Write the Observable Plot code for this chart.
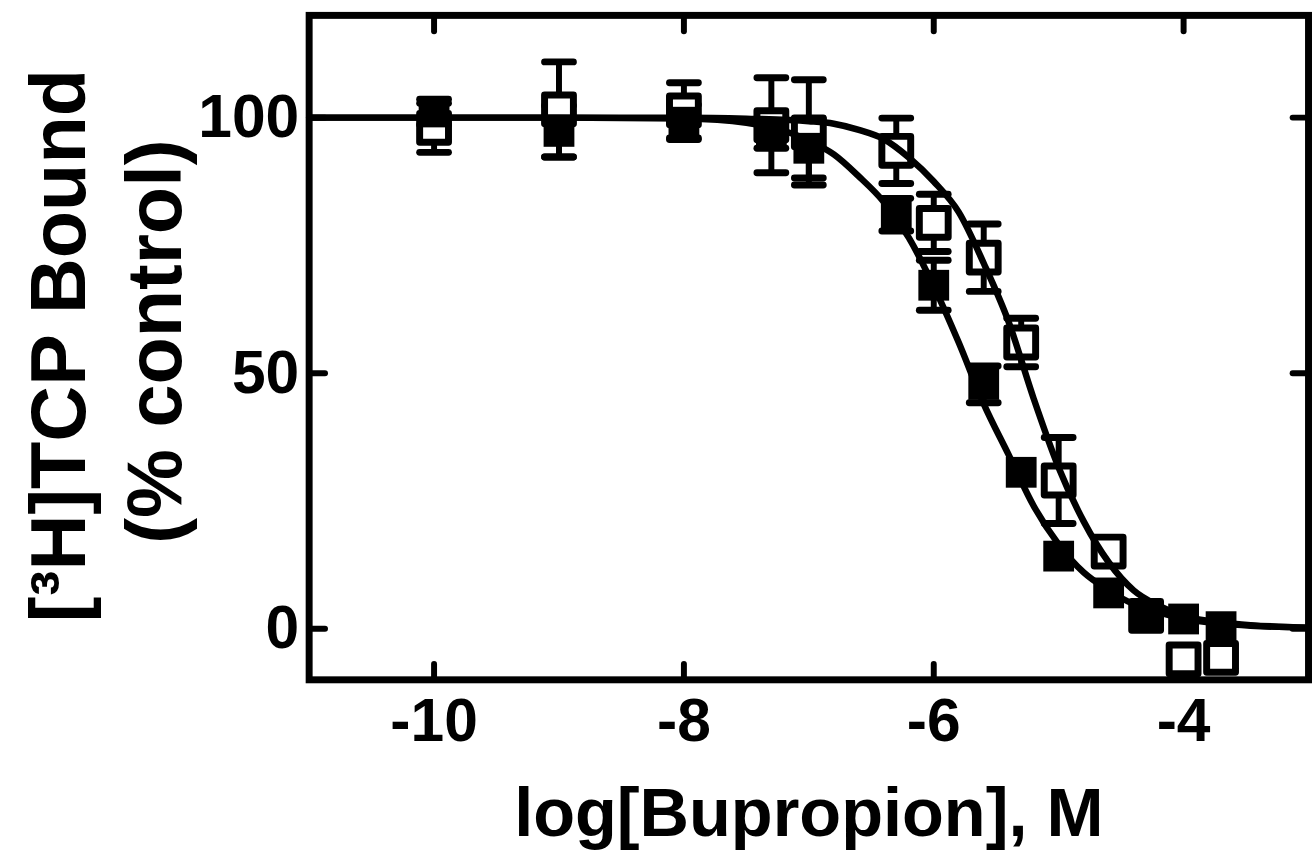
<!DOCTYPE html>
<html><head><meta charset="utf-8">
<script src="https://cdn.jsdelivr.net/npm/d3@7"></script>
<script src="https://cdn.jsdelivr.net/npm/@observablehq/plot@0.6"></script>
<style>html,body{margin:0;padding:0;overflow:hidden;background:#fff}</style>
</head><body><div id="chart"></div>
<script>
// log concentration of bupropion (M)
const concentrations = [-10, -9, -8, -7.3, -7, -6.3, -6, -5.6, -5.3, -5, -4.6, -4.3, -4, -3.7];
// filled squares
const filledMean = [101.1, 97.3, 99.1, 97, 94, 81, 67.2, 47.8, 30.6, 14.2, 7, 2.5, 1.9, 0.4];
const filledErr  = [2.5, 5, 3.4, 3, 5.8, 3.2, 4.9, 3.6, 0, 0, 0, 0, 0, 0];
// open squares
const openMean = [98, 101.6, 101.4, 98.5, 97.1, 93.5, 79.4, 72.6, 56, 29, 15.1, 2.5, -6, -5.7];
const openErr  = [4.8, 9.3, 5.4, 9.3, 10.3, 6.4, 5.6, 6.6, 4.75, 8.4, 0, 0, 0, 0];
// fitted curves
const curveX      = [-11, -10, -9, -8, -7.5, -7, -6.8, -6.6, -6.4, -6.2, -6.0, -5.8, -5.6, -5.4, -5.2, -5.0, -4.8, -4.6, -4.4, -4.2, -4.0, -3.6, -3.0];
const filledCurve = [100, 100, 100, 99.8, 99, 95.5, 92.8, 88.5, 83.5, 76.5, 67, 56, 44, 34, 24, 16.5, 11, 7.5, 4.8, 3.2, 2.0, 0.8, 0.2];
const openCurve   = [100, 100, 100, 100, 99.8, 99.3, 98.8, 97.6, 95.8, 92.2, 87.5, 81.5, 71.5, 60, 45, 31.5, 21, 13, 7.5, 4.5, 2.5, 1.0, 0.2];

const xTicks = [-10, -8, -6, -4];
const yTicks = [0, 50, 100];
const xTitle = "log[Bupropion], M";
const yTitle1 = "[³H]TCP Bound";
const yTitle2 = "(% control)";

const filled = concentrations.map((x, i) => ({x, y: filledMean[i], e: filledErr[i]}));
const open = concentrations.map((x, i) => ({x, y: openMean[i], e: openErr[i]}));
const both = open.concat(filled).filter(d => d.e > 0);
const caps = both.flatMap(d => [{x: d.x, y: d.y + d.e}, {x: d.x, y: d.y - d.e}]);
const fCurve = curveX.map((x, i) => ({x, y: filledCurve[i]}));
const oCurve = curveX.map((x, i) => ({x, y: openCurve[i]}));

const tickShape = {draw(context, l) { context.moveTo(0, 0); context.lineTo(0, -l); }};
const capSymbol = {draw(context) { context.moveTo(-14.5, 0); context.lineTo(14.5, 0); }};
const tickOpts = {length: 16, anchor: "start", shape: tickShape, stroke: "black", strokeWidth: 6, strokeLinecap: "round"};

const chart = Plot.plot({
  width: 1322,
  height: 858,
  marginLeft: 311,
  marginRight: 4,
  marginTop: 15,
  marginBottom: 173.5,
  style: {fontFamily: "Liberation Sans, Arial, sans-serif", fontWeight: "bold", color: "black", background: "white", overflow: "visible"},
  x: {domain: [-11, -3]},
  y: {domain: [-10, 120]},
  marks: [
    Plot.axisX({ticks: xTicks, tickSize: 0, tickPadding: 18, fontSize: 61, fontWeight: "bold", tickFormat: d => String(d), label: null}),
    Plot.axisY({ticks: yTicks, tickSize: 0, tickPadding: 10, fontSize: 61, fontWeight: "bold", tickFormat: d => String(d), label: null}),
    Plot.vector(xTicks, {x: d => d, frameAnchor: "bottom", rotate: 0, ...tickOpts}),
    Plot.vector(xTicks, {x: d => d, frameAnchor: "top", rotate: 180, ...tickOpts}),
    Plot.vector(yTicks, {y: d => d, frameAnchor: "left", rotate: 90, ...tickOpts}),
    Plot.vector(yTicks, {y: d => d, frameAnchor: "right", rotate: -90, ...tickOpts}),
    Plot.ruleX(both, {x: "x", y1: d => d.y - d.e, y2: d => d.y + d.e, stroke: "black", strokeWidth: 6}),
    Plot.dot(caps, {x: "x", y: "y", symbol: capSymbol, r: 5, fill: "none", stroke: "black", strokeWidth: 7, strokeLinecap: "round"}),
    Plot.dot(open, {x: "x", y: "y", symbol: "square", r: 16.4, fill: "white", stroke: "black", strokeWidth: 7, strokeLinejoin: "round"}),
    Plot.line(fCurve, {x: "x", y: "y", curve: "monotone-x", stroke: "black", strokeWidth: 6.5}),
    Plot.line(oCurve, {x: "x", y: "y", curve: "monotone-x", stroke: "black", strokeWidth: 6.5}),
    Plot.dot(filled, {x: "x", y: "y", symbol: "square", r: 17.5, fill: "black", stroke: "none"}),
    Plot.frame({stroke: "black", strokeWidth: 7}),
    Plot.text([xTitle], {text: d => d, frameAnchor: "bottom", lineAnchor: "top", dy: 108.5, fontSize: 69, fontWeight: "bold", fill: "black"}),
    Plot.text([yTitle1], {text: d => d, frameAnchor: "left", textAnchor: "middle", rotate: -90, dx: -251, dy: -2, fontSize: 78, fontWeight: "bold", fill: "black"}),
    Plot.text([yTitle2], {text: d => d, frameAnchor: "left", textAnchor: "middle", rotate: -90, dx: -154, dy: -6, fontSize: 78, fontWeight: "bold", fill: "black"})
  ]
});
document.getElementById("chart").appendChild(chart);
</script>
</body></html>
